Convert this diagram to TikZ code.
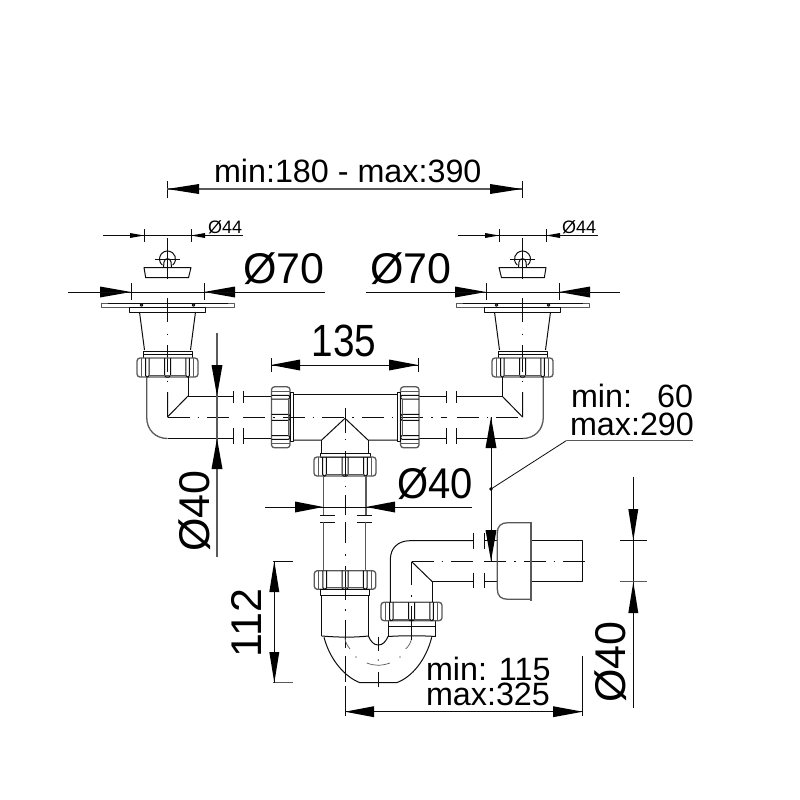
\documentclass[tikz,border=0pt]{standalone}
\usepackage{graphicx}
\usepackage{fontspec}
\setmainfont{Liberation Sans}
\usetikzlibrary{calc}
\definecolor{ln}{gray}{0.05}
\definecolor{gl}{gray}{0.35}
\tikzset{
  part/.style={draw=ln,line width=1pt,line join=round},
  thin part/.style={draw=gl,line width=0.7pt,line join=round},
  heavy/.style={draw=gl,line width=1.3pt,line join=round},
  dim/.style={draw=ln,line width=0.8pt},
  gdim/.style={draw=gl,line width=1.2pt},
  ctr/.style={draw=ln,line width=0.7pt,dash pattern=on 22pt off 8pt on 1.5pt off 8pt},
  cseg/.style={draw=ln,line width=0.7pt},
  tip/.style={fill=black,draw=none},
  lbl/.style={inner sep=0pt,outer sep=0pt,text=black},
  big/.style={lbl,font=\fontsize{43}{43}\selectfont},
  mid/.style={lbl,font=\fontsize{32.3}{32.3}\selectfont},
  sml/.style={lbl,font=\fontsize{18}{18}\selectfont},
}
% arrow: tip at #1, base at #2, half width #3
\newcommand{\arrowtip}[3]{\fill[tip] (#1) -- ($(#2)!#3pt!90:(#1)$) -- ($(#2)!#3pt!-90:(#1)$) -- cycle;}
% nut: x centre 0, half width #1 ; from y=0 to y=#2
\newcommand{\hnut}[2]{%
  \draw[heavy,rounded corners=3pt] (-#1,0) rectangle (#1,#2);
  \foreach \s in {-1,1}{
    \draw[thin part] (\s*#1*0.86,0) -- (\s*#1*0.86,#2);
    \draw[part,rounded corners=1.5pt] (\s*#1*0.72,0) -- (\s*#1*0.72,#2) -- (\s*#1*0.6,#2) -- (\s*#1*0.6,0);
  }
  \draw[part,rounded corners=1.5pt] (-3,0) -- (-3,#2) -- (3,#2) -- (3,0);
  \draw[thin part] (-#1*0.6,#2-1.5) -- (#1*0.6,#2-1.5);
}
\newcommand{\drain}{%
  \draw[cseg] (0,238) -- (0,279) (0,298) -- (0,322) (0,333.5) -- (0,335) (0,345) -- (0,372) (0,380.5) -- (0,382);
  \draw[part] (-4,267.5) -- (-3.5,262) .. controls (-3,257.5) and (3,257.5) .. (3.5,262) -- (4,267.5);
  \draw[part] (0,259) ++(130:8) arc[start angle=130,end angle=410,radius=8];
  \draw[dim] (-12.5,259) -- (12.5,259);
  \draw[part] (-23.5,267.5) -- (23.5,267.5) -- (21,277.7) -- (-21.8,277.7) -- cycle;
  \draw[thin part] (-66.5,303) rectangle (66.5,307);
  \draw[part] (-60,303.5) -- (60,303.5);
  \draw[part] (-38,307) rectangle (38,312);
  \draw[part] (-26,305) circle (1.3) (26,305) circle (1.3);
  \draw[part] (-28,312) -- (-23,350) (28,312) -- (23,350);
  \draw[part] (-24.5,351) rectangle (24.5,354);
  \draw[part] (-24.5,354) -- (-24.5,358) (24.5,354) -- (24.5,358);
  \begin{scope}[shift={(0,358)}]\hnut{30.5}{19}\end{scope}
  % elbow
  \draw[heavy] (-20.8,377) -- (-20.8,417) .. controls (-20.8,430) and (-12,438.5) .. (0,438.5);
  \draw[part] (0,438.5) -- (65.5,438.5);
  \draw[part] (20.5,377) -- (20.5,396) -- (65.5,396);
  \draw[part] (20.5,396) -- (0,417) -- (0,392);
}
\begin{document}
\begin{tikzpicture}[x=1pt,y=-1pt]
\useasboundingbox[fill=white] (0,0) rectangle (800,800);
% ---- drains
\begin{scope}[shift={(167.5,0)}]\drain\end{scope}
\begin{scope}[shift={(522.5,0)},xscale=-1]\drain\end{scope}
% ---- horizontal centreline
\draw[ctr] (167.5,417) -- (233,417);
\draw[ctr] (243,417) -- (446.7,417);
\draw[ctr] (456.7,417) -- (522.5,417);
% breaks
\foreach \x in {233,243,446.7,456.7}{
  \draw[dim] (\x,391) -- (\x,403) (\x,428) -- (\x,444);
}
% pipe stubs
\draw[part] (243,396) -- (271.5,396) (243,438.5) -- (271.5,438.5);
\draw[part] (419,396) -- (446.7,396) (419,438.5) -- (446.7,438.5);
% horizontal nuts of tee
\begin{scope}[shift={(271.5,417.3)},rotate=90]\hnut{30.5}{18.5}\end{scope}
\begin{scope}[shift={(419,417.3)},rotate=-90]\hnut{30.5}{18.5}\end{scope}
\draw[part] (290,392) rectangle (293,441);
\draw[part] (397,392) rectangle (400,441);
% tee body
\draw[part] (293,394) -- (397,394);
\draw[part] (293,440) -- (321.7,440) -- (345,418.3) -- (368,440) -- (397,440);
\draw[part] (321.7,440) -- (321.7,453) (368,440) -- (368,453);
\draw[part] (320,453) rectangle (370,457);
\begin{scope}[shift={(345,457)}]\hnut{31}{19}\end{scope}
% main vertical pipe centre
\draw[cseg] (345,408) -- (345,433) (345,438.5) -- (345,440) (345,451) -- (345,476) (345,485.5) -- (345,487) (345,495) -- (345,515) (345,522) -- (345,543) (345,554) -- (345,555.5) (345,566) -- (345,600) (345,609) -- (345,610.5) (345,620) -- (345,648) (345,656) -- (345,682);
\draw[heavy] (323.3,476) -- (323.3,515) (366,476) -- (366,515);
\draw[dim] (320,515) -- (335,515) (357,515) -- (372,515);
\draw[dim] (320,522.3) -- (335,522.3) (357,522.3) -- (372,522.3);
\draw[heavy] (323.3,522.3) -- (323.3,571) (365.7,522.3) -- (365.7,571);
\begin{scope}[shift={(345,570.7)}]\hnut{30.7}{18.6}\end{scope}
\draw[part] (320.7,589.3) rectangle (369.3,595);
\draw[part] (321.7,595) -- (321.7,636) (368.3,595) -- (368.3,636);
\draw[part] (321.7,636) .. controls (340,637.5) and (355,637.5) .. (368.3,636);
% U bend
\draw[part] (324,637.3) .. controls (330,660) and (345,677) .. (360,682.7) -- (396.7,682.7) .. controls (412,677) and (426,660) .. (431.7,637.3);
\draw[part] (368.3,636) .. controls (371,642) and (374,645) .. (378.3,645) .. controls (382.6,645) and (385.6,642) .. (388.3,636);
\draw[part] (388.3,636.5) .. controls (403,635.5) and (420,635.5) .. (435.7,636.5);
\draw[part] (388.3,620.7) -- (388.3,636.5) (435.7,620.7) -- (435.7,636.5);
\draw[part] (388.3,626.7) -- (435.7,626.7);
\draw[thin part] (345,638) .. controls (345.5,643) and (347,645) .. (350,649);
\draw[thin part] (405.7,649) .. controls (409,646) and (411,642) .. (411.7,638);
\draw[thin part] (366.7,663) .. controls (375,666) and (381,666) .. (390,663);
\fill (356,657) circle (0.7) (378.3,660) circle (0.7) (400,657) circle (0.7);
\draw[cseg] (378.3,636.7) -- (378.3,651) (378.3,672) -- (378.3,687);
% right nut and bend
\begin{scope}[shift={(411.5,602.3)}]\hnut{30.5}{18.4}\end{scope}
\draw[part] (390.3,602.3) -- (390.3,560) .. controls (390.3,548) and (398,540.7) .. (410,540.7) -- (473.3,540.7);
\draw[part] (432.3,602.3) -- (432.3,581.7) -- (473.3,581.7);
\draw[part] (432.3,581.7) -- (411.7,561.7);
\draw[ctr] (411.7,561.7) -- (473.3,561.7);
\draw[cseg] (411.7,561.7) -- (411.7,585) (411.7,595) -- (411.7,596.5) (411.7,606) -- (411.7,640);
\draw[ctr] (484.3,561.7) -- (591,561.7);
\foreach \x in {473.3,484.3}{
  \draw[dim] (\x,533) -- (\x,549) (\x,572.7) -- (\x,588.3);
}
\draw[part] (484.3,540.7) -- (497.3,540.7) (484.3,581.7) -- (497.3,581.7);
% cap and tail
\draw[heavy] (530,522.7) -- (508,522.7) .. controls (501,522.7) and (497.3,526) .. (497.3,533) -- (497.3,589) .. controls (497.3,596) and (501,599.3) .. (508,599.3) -- (530,599.3);
\draw[draw=gl,line width=2pt] (531,521.7) -- (531,600.7);
\draw[part] (532,540.7) -- (582.7,540.7) -- (582.7,581.7) -- (532,581.7);
% ---- dimensions
% top
\draw[dim] (167.3,181) -- (167.3,198) (522,181) -- (522,198);
\draw[gdim] (167.3,189) -- (522,189);
\arrowtip{167.3,189}{199,189}{5}
\arrowtip{522,189}{490,189}{5}
\node[mid,anchor=base west] (ttop) at (214,182) {min:180 - max:390};
% small Ø44 and Ø70 ticks
\foreach \d in {0,355}{
  \begin{scope}[shift={(\d,0)}]
    \draw[dim] (103,235.5) -- (243,235.5) (144,229) -- (144,242) (191,229) -- (191,242);
    \arrowtip{144,235.5}{130,235.5}{2.5}
    \arrowtip{191,235.5}{205,235.5}{2.5}
    \draw[dim] (131,283) -- (131,300) (204,283) -- (204,300);
    \arrowtip{131,292}{100,292}{5.5}
    \arrowtip{204,292}{235,292}{5.5}
  \end{scope}
}
\node[sml,anchor=base west] (a44) at (208,233) {Ø44};
\node[sml,anchor=base west] (b44) at (562,233) {Ø44};
\draw[dim] (68,292) -- (325,292);
\draw[dim] (366,292) -- (620,292);
\node[big,anchor=base west] (a70) at (243,283) {Ø70};
\node[big,anchor=base west] (b70) at (370,283) {Ø70};
% 135
\draw[dim] (271,358) -- (271,372) (418,358) -- (418,372) (271,365) -- (418,365);
\arrowtip{271,365}{300,365}{5.5}
\arrowtip{418,365}{389,365}{5.5}
\node[big,anchor=base] (n135) at (344,356) {\scalebox{0.9}[1.05]{135}};
% left vertical Ø40
\draw[gdim] (217,333) -- (217,556.5);
\arrowtip{217,396}{217,365}{5.5}
\arrowtip{217,438.5}{217,469}{5.5}
\node[big,anchor=base,rotate=90] (v40) at (209,511) {Ø40};
% middle Ø40
\draw[dim] (265,507) -- (472,507);
\arrowtip{323.3,507}{295,507}{5.5}
\arrowtip{366,507}{395,507}{5.5}
\node[big,anchor=base west] (m40) at (397,498) {\scalebox{0.93}[1]{Ø40}};
% right vertical / leader
\draw[dim] (491,417) -- (491,561);
\arrowtip{491,417}{491,448}{5.5}
\arrowtip{491,561}{491,530}{5.5}
\fill (491,489) circle (1.8);
\draw[dim] (491,489) -- (566.5,440.5);
\draw[gdim] (566.5,440.5) -- (693,440.5);
\node[mid,anchor=base west] (t60) at (571,407) {min:};
\node[mid,anchor=base east] (t60b) at (693,407) {60};
\node[mid,anchor=base west] (t290) at (570,435) {max:290};
% 112
\draw[dim] (273,561) -- (293,561);
\draw[gdim] (273,682.7) -- (293,682.7);
\draw[dim] (274.3,561) -- (274.3,682.7);
\arrowtip{274.3,561}{274.3,592}{5}
\arrowtip{274.3,682.7}{274.3,652}{5}
\node[big,anchor=base,rotate=90] (n112) at (261,623) {112};
% bottom
\draw[dim] (345,686) -- (345,716) (582.7,656) -- (582.7,716) (345,711.7) -- (582.7,711.7);
\arrowtip{345,711.7}{374,711.7}{5.5}
\arrowtip{582.7,711.7}{553,711.7}{5.5}
\node[mid,anchor=base west] (t115) at (426,680) {min: 115};
\node[mid,anchor=base west] (t325) at (426,705) {max:325};
% right Ø40
\draw[dim] (633.3,477) -- (633.3,708) (620,540.5) -- (647,540.5);
\draw[gdim] (620,581.7) -- (647,581.7);
\arrowtip{633.3,540.5}{633.3,509}{5}
\arrowtip{633.3,582}{633.3,613}{5}
\node[big,anchor=base,rotate=90] (r40) at (625,662) {Ø40};
\end{tikzpicture}
\end{document}
